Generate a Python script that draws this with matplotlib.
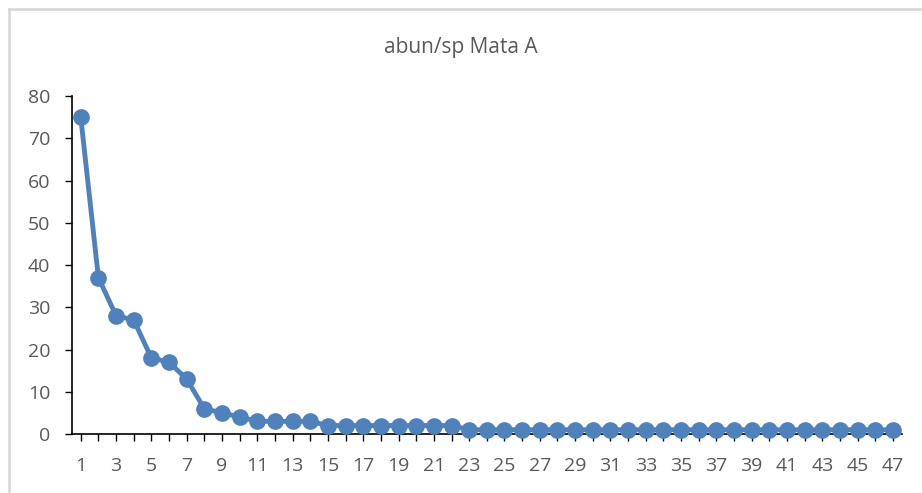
import matplotlib
matplotlib.use("Agg")
import matplotlib.pyplot as plt
from matplotlib.lines import Line2D

categories = list(range(1, 48))
values = [75, 37, 28, 27, 18, 17, 13, 6, 5, 4, 3, 3, 3, 3,
          2, 2, 2, 2, 2, 2, 2, 2] + [1] * 25
title = "abun/sp Mata A"
y_ticks = [0, 10, 20, 30, 40, 50, 60, 70, 80]

plt.rcParams['font.family'] = ['Open Sans', 'DejaVu Sans']
W, H = 922, 493
fig = plt.figure(figsize=(W / 100, H / 100), dpi=100)
ax = fig.add_axes([0.078, 0.1197, 0.900, 0.6855])

color = '#4F81BD'
ax.plot(categories, values, color=color, linewidth=3.5, marker='o',
        markersize=11, markeredgecolor=color, markerfacecolor=color,
        solid_capstyle='round', clip_on=False, zorder=3)

ax.set_xlim(0.5, 47.5)
ax.set_ylim(0, 80)
ax.set_yticks(y_ticks)
ax.set_xticks(categories)
ax.set_xticklabels([str(c) if c % 2 == 1 else '' for c in categories])

for s in ['top', 'right']:
    ax.spines[s].set_visible(False)
for s in ['left', 'bottom']:
    ax.spines[s].set_color('black')
    ax.spines[s].set_linewidth(1.2)

ax.tick_params(axis='both', colors='black', labelcolor='#595959',
               labelsize=14, length=5, width=1, direction='out')
ax.tick_params(axis='x', pad=11.5)
ax.tick_params(axis='y', pad=10.5)

fig.text(0.5, 1 - 48 / H, title, ha='center', va='center', fontsize=15,
         color='#595959')

# chart-area border (left and top visible, rest cropped)
bx, by = 8.5 / W, 1 - 8.5 / H
fig.lines.append(Line2D([bx, bx], [0, by], transform=fig.transFigure,
                        color='#D9D9D9', linewidth=2))
fig.lines.append(Line2D([bx, 1], [by, by], transform=fig.transFigure,
                        color='#D9D9D9', linewidth=2))

fig.savefig('out.png', dpi=100)
